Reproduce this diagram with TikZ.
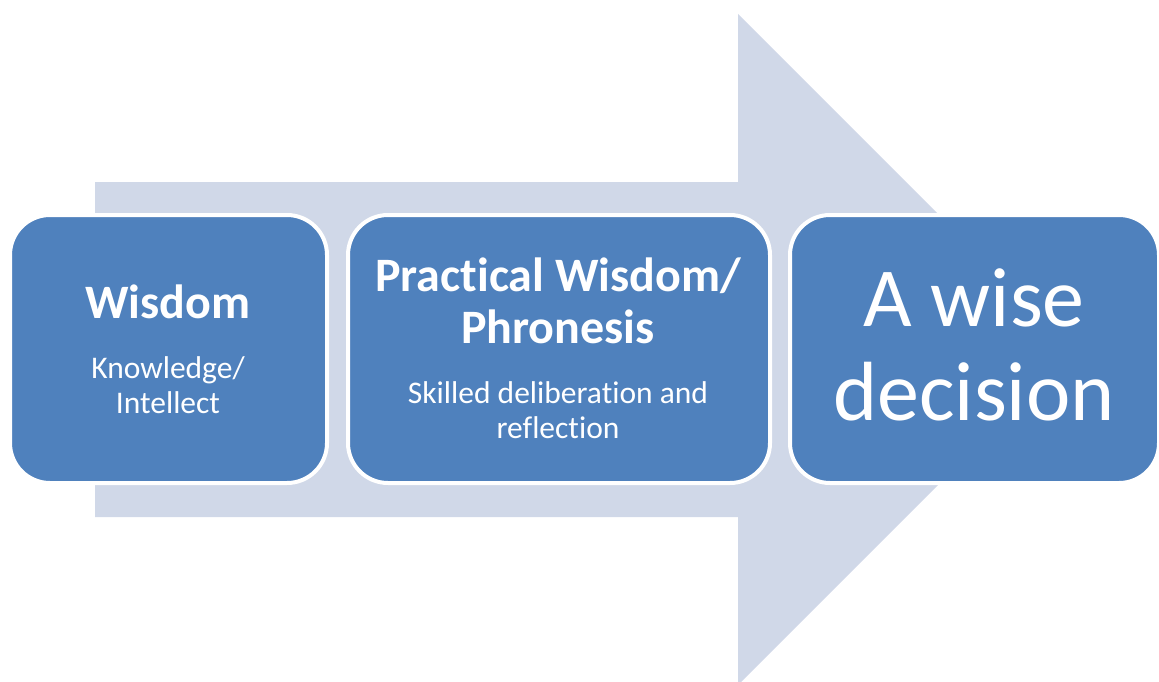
\documentclass[tikz,border=0pt]{standalone}
\usepackage{fontspec}
\setmainfont[Ligatures={NoCommon}]{Carlito}
\definecolor{boxblue}{HTML}{4F81BD}
\definecolor{arrowgray}{HTML}{D0D8E8}
\tikzset{
  stagebox/.style={rectangle, draw=white, line width=4pt, fill=boxblue,
    rounded corners=40pt, inner sep=0pt},
  titletext/.style={text=white, align=center, anchor=base, inner sep=0pt,
    font=\bfseries\fontsize{48}{52}\selectfont},
  subtext/.style={text=white, align=center, anchor=base, inner sep=0pt,
    font=\fontsize{31.5}{35}\selectfont},
  bigtext/.style={text=white, align=center, anchor=base, inner sep=0pt,
    font=\fontsize{84}{94}\selectfont},
}
\begin{document}
\begin{tikzpicture}[x=1pt,y=-1pt]
\useasboundingbox (0,0) rectangle (1159,682);
\clip (0,0) rectangle (1159,682);
% big background arrow
\fill[arrowgray] (95,182) -- (738,182) -- (738,14) -- (1073.5,349.5)
  -- (738,685) -- (738,517) -- (95,517) -- cycle;
% boxes
\node[stagebox, minimum width=317pt, minimum height=268pt] (b1) at (168.5,349) {};
\node[stagebox, minimum width=422pt, minimum height=268pt] (b2) at (559,349) {};
\node[stagebox, minimum width=369pt, minimum height=268pt] (b3) at (974.5,349) {};
% texts
\node[titletext] (t1) at (168,318) {Wisdom};
\node[subtext] (s1a) at (168,378) {Knowledge/};
\node[subtext] (s1b) at (168,413) {Intellect};
\node[titletext] (t2a) at (558,291) {Practical Wisdom/};
\node[titletext] (t2b) at (558,343) {Phronesis};
\node[subtext] (s2a) at (558,403) {Skilled deliberation and};
\node[subtext] (s2b) at (558,438) {reflection};
\node[bigtext] (t3a) at (974,326) {A wise};
\node[bigtext] (t3b) at (974,420) {decision};
\end{tikzpicture}
\end{document}
